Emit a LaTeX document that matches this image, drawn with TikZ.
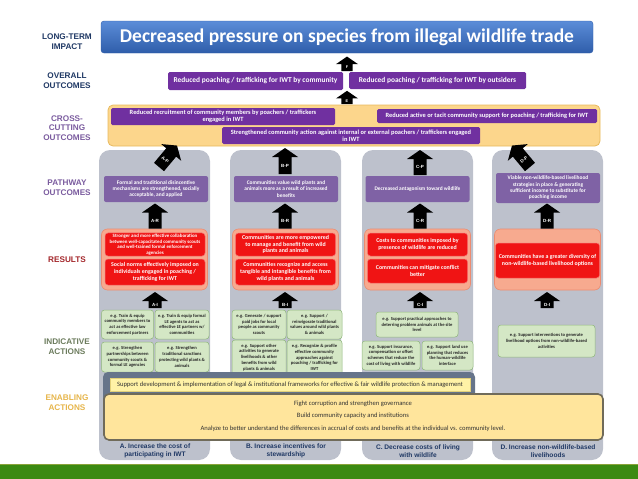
\documentclass[tikz,border=0pt]{standalone}
\usepackage{fontspec}
\setmainfont{Carlito}
\setsansfont{Liberation Sans}
\usetikzlibrary{positioning}
\definecolor{titletop}{HTML}{5B8DD8}
\definecolor{titlebot}{HTML}{2F5DAA}
\definecolor{navy}{HTML}{1F3864}
\definecolor{violet1}{HTML}{7030A0}
\definecolor{violet2}{HTML}{7F62A5}
\definecolor{violetlabel}{HTML}{7A5B9E}
\definecolor{crossfill}{HTML}{FCD68C}
\definecolor{crossline}{HTML}{E7B95E}
\definecolor{pillargray}{HTML}{BDC1CC}
\definecolor{salmon}{HTML}{F7AA8F}
\definecolor{salmonline}{HTML}{EC8B70}
\definecolor{redbox}{HTML}{F01414}
\definecolor{redline}{HTML}{F57070}
\definecolor{redlabel}{HTML}{A3262A}
\definecolor{actfill}{HTML}{D4E7C5}
\definecolor{actline}{HTML}{90B77C}
\definecolor{actlabel}{HTML}{6B7B5C}
\definecolor{slate}{HTML}{66748A}
\definecolor{legalfill}{HTML}{FFF2A6}
\definecolor{legalline}{HTML}{E2D07A}
\definecolor{enablefill}{HTML}{FFE59C}
\definecolor{enableline}{HTML}{706B5A}
\definecolor{enablelabel}{HTML}{E6B54A}
\definecolor{grass}{HTML}{3B8A12}
\definecolor{grassline}{HTML}{8AA33A}
\tikzset{
  arrowlen/.store in=\arrlen, arrowlen=24,
  sidelabel/.style={font=\sffamily\bfseries\fontsize{8.2}{9.8}\selectfont, align=center},
  titlebox/.style={rounded corners=3pt, top color=titletop, bottom color=titlebot, draw=titlebot,
    line width=0.4pt, text=white, inner sep=0pt, font=\bfseries\fontsize{19.5}{21}\selectfont},
  outbox/.style={fill=violet1, rounded corners=1.5pt, text=white, align=center, inner sep=1pt,
    font=\bfseries\fontsize{7.4}{8.4}\selectfont},
  crossbox/.style={outbox, font=\bfseries\fontsize{6.4}{7.2}\selectfont},
  pathbox/.style={fill=violet2, rounded corners=2pt, text=white, align=center, inner sep=1pt,
    minimum width=104pt, font=\bfseries\fontsize{5.4}{6.3}\selectfont},
  pillar/.style={fill=pillargray, rounded corners=11pt, minimum width=111pt, minimum height=310pt, inner sep=0pt},
  resarea/.style={fill=salmon, draw=salmonline, line width=0.6pt, rounded corners=6pt,
    minimum width=106pt, minimum height=61pt, inner sep=0pt},
  resbox/.style={fill=redbox, draw=redline, line width=0.5pt, rounded corners=3pt, text=white, align=center,
    minimum width=100pt, inner sep=1pt, font=\bfseries\fontsize{5.9}{6.8}\selectfont},
  actbox/.style={fill=actfill, draw=actline, line width=0.5pt, rounded corners=3pt, text=black!85,
    align=center, inner sep=0.5pt, font=\bfseries\fontsize{4.6}{5.8}\selectfont},
  enabletext/.style={font=\fontsize{6.6}{7.5}\selectfont, text=black!80},
  pillarlabel/.style={font=\sffamily\bfseries\fontsize{6.6}{7.6}\selectfont, text=navy, align=center},
  arrowtag/.style={font=\sffamily\bfseries\fontsize{4.5}{5}\selectfont, text=white, inner sep=0pt},
  blockarrow/.pic={
    \fill[black] (-6.5,0) -- (-6.5,-\arrlen+9) -- (-13,-\arrlen+9) -- (0,-\arrlen)
      -- (13,-\arrlen+9) -- (6.5,-\arrlen+9) -- (6.5,0) -- cycle;
    \node[arrowtag, transform shape] (-tag) at (0,{-(\arrlen-9)/2}) {#1};
  },
}

\begin{document}
\begin{tikzpicture}[x=1pt, y=-1pt]
\useasboundingbox (0,0) rectangle (638,479);

% -----------------------------------------------------------------------------
% Row labels
% -----------------------------------------------------------------------------
\node[sidelabel, text=navy] (lblImpact) at (67,42) {LONG-TERM\\IMPACT};
\node[sidelabel, text=navy] (lblOverall) at (67,81) {OVERALL\\OUTCOMES};
\node[sidelabel, text=violetlabel] (lblCross) at (67,128) {CROSS-\\CUTTING\\OUTCOMES};
\node[sidelabel, text=violetlabel] (lblPath) at (67,188) {PATHWAY\\OUTCOMES};
\node[sidelabel, text=redlabel] (lblRes) at (67,260) {RESULTS};
\node[sidelabel, text=actlabel] (lblAct) at (67,347) {INDICATIVE\\ACTIONS};
\node[sidelabel, text=enablelabel] (lblEnable) at (67,403) {ENABLING\\ACTIONS};

% -----------------------------------------------------------------------------
% Impact and overall outcomes
% -----------------------------------------------------------------------------
\node[titlebox, minimum width=492pt, minimum height=32pt] (title) at (347,37)
  {Decreased pressure on species from illegal wildlife trade};
\pic[arrowlen=17, scale=0.85] (arF) at (347,71) {blockarrow=F};

\node[outbox, minimum width=175pt, minimum height=18pt] (ocComm) at (255.5,81)
  {Reduced poaching / trafficking for IWT by community};
\node[outbox, minimum width=177pt, minimum height=17pt] (ocOut) at (437.5,80.5)
  {Reduced poaching / trafficking for IWT by outsiders};
\pic[arrowlen=15.5, scale=0.85] (arE) at (347,104) {blockarrow=E};

% -----------------------------------------------------------------------------
% Cross-cutting outcomes
% -----------------------------------------------------------------------------
\node[fill=crossfill, draw=crossline, line width=0.8pt, rounded corners=5pt,
      minimum width=492pt, minimum height=41pt] (ccBg) at (354,125.5) {};
\node[crossbox, minimum width=224pt, minimum height=17pt] (ccRecruit) at (223,116.5)
  {Reduced recruitment of community members by poachers / traffickers\\engaged in IWT};
\node[crossbox, minimum width=220pt, minimum height=14pt] (ccSupport) at (487,116)
  {Reduced active or tacit community support for poaching / trafficking for IWT};
\node[crossbox, minimum width=258pt, minimum height=17pt] (ccAction) at (351,135.5)
  {Strengthened community action against internal or external poachers / traffickers engaged\\in IWT};

% -----------------------------------------------------------------------------
% Pathway columns
% -----------------------------------------------------------------------------
\foreach \col/\cx in {A/154.5,B/285.5,C/417.5,D/547.5}{
  \node[pillar] (col\col) at (\cx,305) {};
  \node[resarea] (resArea\col) at (\cx,259.5) {};
}

% pathway outcomes
\node[pathbox, minimum height=26pt] (pathA) at (156,189)
  {Formal and traditional disincentive\\mechanisms are strengthened, socially\\acceptable, and applied};
\node[pathbox, minimum height=26pt] (pathB) at (286,189)
  {Communities value wild plants and\\animals more as a result of increased\\benefits};
\node[pathbox, minimum height=26pt] (pathC) at (417.5,189)
  {Decreased antagonism toward wildlife};
\node[pathbox, minimum height=30pt] (pathD) at (548,188)
  {Viable non-wildlife-based livelihood\\strategies in place \& generating\\sufficient income to substitute for\\poaching income};

\pic[rotate=-40, arrowlen=28] (arAP) at (159,167) {blockarrow=A-P};
\pic[arrowlen=26] (arBP) at (285,174) {blockarrow=B-P};
\pic[arrowlen=25] (arCP) at (420,175) {blockarrow=C-P};
\pic[rotate=40, arrowlen=28] (arDP) at (530,167) {blockarrow=D-P};

\foreach \col/\cx in {A/155,B/285,C/420,D/547}{
  \pic[arrowlen=25] (ar\col R) at (\cx,228.5) {blockarrow=\col-R};
  \pic[arrowlen=16] (ar\col I) at (\cx,308) {blockarrow=\col-I};
}

% results
\node[resbox, minimum height=23pt, font=\bfseries\fontsize{4.9}{5.6}\selectfont] (resA1) at (155,244.5)
  {Stronger and more effective collaboration\\between well-capacitated community scouts\\and well-trained formal enforcement\\agencies};
\node[resbox, minimum height=26pt, below=2.5pt of resA1] (resA2)
  {Social norms effectively imposed on\\individuals engaged in poaching /\\trafficking for IWT};
\node[resbox, minimum height=23pt] (resB1) at (285.5,244.5)
  {Communities are more empowered\\to manage and benefit from wild\\plants and animals};
\node[resbox, minimum height=26pt, below=2.5pt of resB1] (resB2)
  {Communities recognize and access\\tangible and intangible benefits from\\wild plants and animals};
\node[resbox, minimum height=23pt] (resC1) at (417.5,244.5)
  {Costs to communities imposed by\\presence of wildlife are reduced};
\node[resbox, minimum height=24pt, below=2.5pt of resC1] (resC2)
  {Communities can mitigate conflict\\better};
\node[resbox, minimum height=35pt, minimum width=104pt] (resD1) at (547.5,260.5)
  {Communities have a greater diversity of\\non-wildlife-based livelihood options};

% indicative actions
\node[actbox, minimum width=52pt, minimum height=29pt] (actA1) at (127.5,324.5)
  {e.g. Train \& equip\\community members to\\act as effective law\\enforcement partners};
\node[actbox, minimum width=54pt, minimum height=29pt] (actA2) at (182,324.5)
  {e.g. Train \& equip formal\\LE agents to act as\\effective LE partners w/\\communities};
\node[actbox, minimum width=52pt, minimum height=30pt] (actA3) at (127.5,357)
  {e.g. Strengthen\\partnerships between\\community scouts \&\\formal LE agencies};
\node[actbox, minimum width=54pt, minimum height=30pt] (actA4) at (182,357)
  {e.g. Strengthen\\traditional sanctions\\protecting wild plants \&\\animals};
\node[actbox, minimum width=54pt, minimum height=29pt] (actB1) at (259,324.5)
  {e.g. Generate / support\\paid jobs for local\\people as community\\scouts};
\node[actbox, minimum width=55pt, minimum height=29pt] (actB2) at (314.5,324.5)
  {e.g. Support /\\reinvigorate traditional\\values around wild plants\\\& animals};
\node[actbox, minimum width=54pt, minimum height=35pt] (actB3) at (259,357.5)
  {e.g. Support other\\activities to generate\\livelihoods \& other\\benefits from wild\\plants \& animals};
\node[actbox, minimum width=55pt, minimum height=35pt] (actB4) at (314.5,357.5)
  {e.g. Recognize \& profile\\effective community\\approaches against\\poaching / trafficking for\\IWT};
\node[actbox, minimum width=82pt, minimum height=25pt] (actC1) at (417,324.5)
  {e.g. Support practical approaches to\\deterring problem animals at the site\\level};
\node[actbox, minimum width=58pt, minimum height=29pt] (actC2) at (391,355.5)
  {e.g. Support insurance,\\compensation or offset\\schemes that reduce the\\cost of living with wildlife};
\node[actbox, minimum width=51pt, minimum height=29pt] (actC3) at (447.5,355.5)
  {e.g. Support land use\\planning that reduces\\the human-wildlife\\interface};
\node[actbox, minimum width=97pt, minimum height=32pt] (actD1) at (546.5,341)
  {e.g. Support interventions to generate\\livelihood options from non-wildlife-based\\activities};

% -----------------------------------------------------------------------------
% Enabling actions
% -----------------------------------------------------------------------------
\node[fill=slate, rounded corners=5pt, minimum width=372pt, minimum height=32pt] (legalBg) at (289,388) {};
\node[fill=legalfill, draw=legalline, line width=0.4pt, minimum width=360pt, minimum height=13pt,
      inner sep=0pt, enabletext] (legal) at (290,384.5)
  {Support development \& implementation of legal \& institutional frameworks for effective \& fair wildlife protection \& management};
\node[fill=enablefill, draw=enableline, line width=1.6pt, rounded corners=5pt,
      minimum width=499pt, minimum height=46pt] (enable) at (353.5,417) {};
\node[enabletext] (enGov) at (353,404) {Fight corruption and strengthen governance};
\node[enabletext] (enCap) at (353,416) {Build community capacity and institutions};
\node[enabletext] (enAna) at (353,429)
  {Analyze to better understand the differences in accrual of costs and benefits at the individual vs. community level.};

% pillar names
\node[pillarlabel] (nameA) at (155,451) {A. Increase the cost of\\participating in IWT};
\node[pillarlabel] (nameB) at (286,451) {B. Increase incentives for\\stewardship};
\node[pillarlabel] (nameC) at (418,451) {C. Decrease costs of living\\with wildlife};
\node[pillarlabel] (nameD) at (548,451) {D. Increase non-wildlife-based\\livelihoods};

% bottom band
\node[fill=grass, draw=grassline, line width=0.8pt, minimum width=640pt, minimum height=15pt,
      inner sep=0pt] (band) at (319,471.5) {};

\end{tikzpicture}
\end{document}
